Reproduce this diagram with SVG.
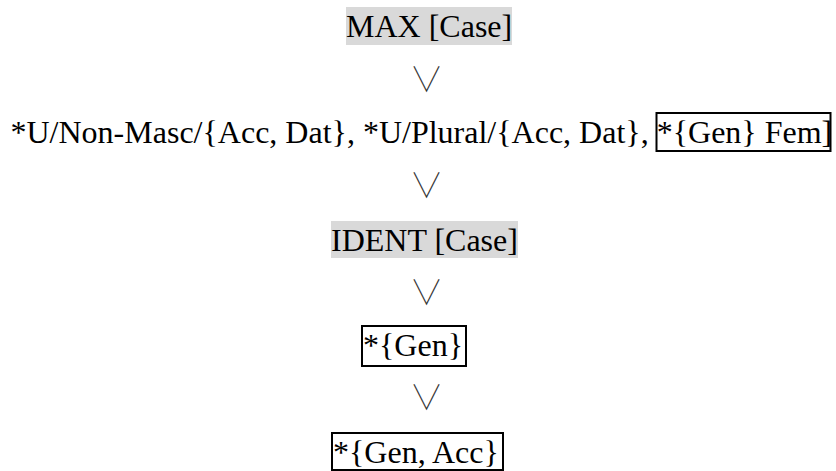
<svg xmlns="http://www.w3.org/2000/svg" width="836" height="471" viewBox="0 0 836 471">
<style>
.t{font-family:"Liberation Serif","Times New Roman",serif;font-size:32px;fill:#000}
.hl{fill:#d9d9d9}
.bx{fill:none;stroke:#000;stroke-width:2}
.v{font-family:"Noto Sans CJK JP","Noto Sans CJK SC",sans-serif;font-weight:100;font-size:34px;fill:#333;text-anchor:middle}
</style>
<rect width="836" height="471" fill="#fff"/>
<g id="max">
<rect class="hl" x="346" y="7" width="166" height="38"/>
<text class="t" x="346" y="37">MAX [Case]</text>
</g>
<g id="markedness">
<text class="t" x="10.5" y="143">*U/Non-Masc/{Acc, Dat}, *U/Plural/{Acc, Dat}, *{Gen} Fem]</text>
<rect class="bx" x="656.5" y="113" width="174" height="38"/>
</g>
<g id="ident">
<rect class="hl" x="331" y="221" width="187" height="37"/>
<text class="t" x="331" y="251">IDENT [Case]</text>
</g>
<g id="gen">
<rect class="bx" x="362" y="326" width="104" height="40"/>
<text class="t" x="363" y="356">*{Gen}</text>
</g>
<g id="genacc">
<rect class="bx" x="332" y="433" width="171" height="37"/>
<text class="t" x="333" y="463">*{Gen, Acc}</text>
</g>
<g id="connectors">
<text class="v" x="426.5" y="92">∨</text>
<text class="v" x="426.5" y="198">∨</text>
<text class="v" x="426.5" y="305">∨</text>
<text class="v" x="426.5" y="410">∨</text>
</g>
</svg>
